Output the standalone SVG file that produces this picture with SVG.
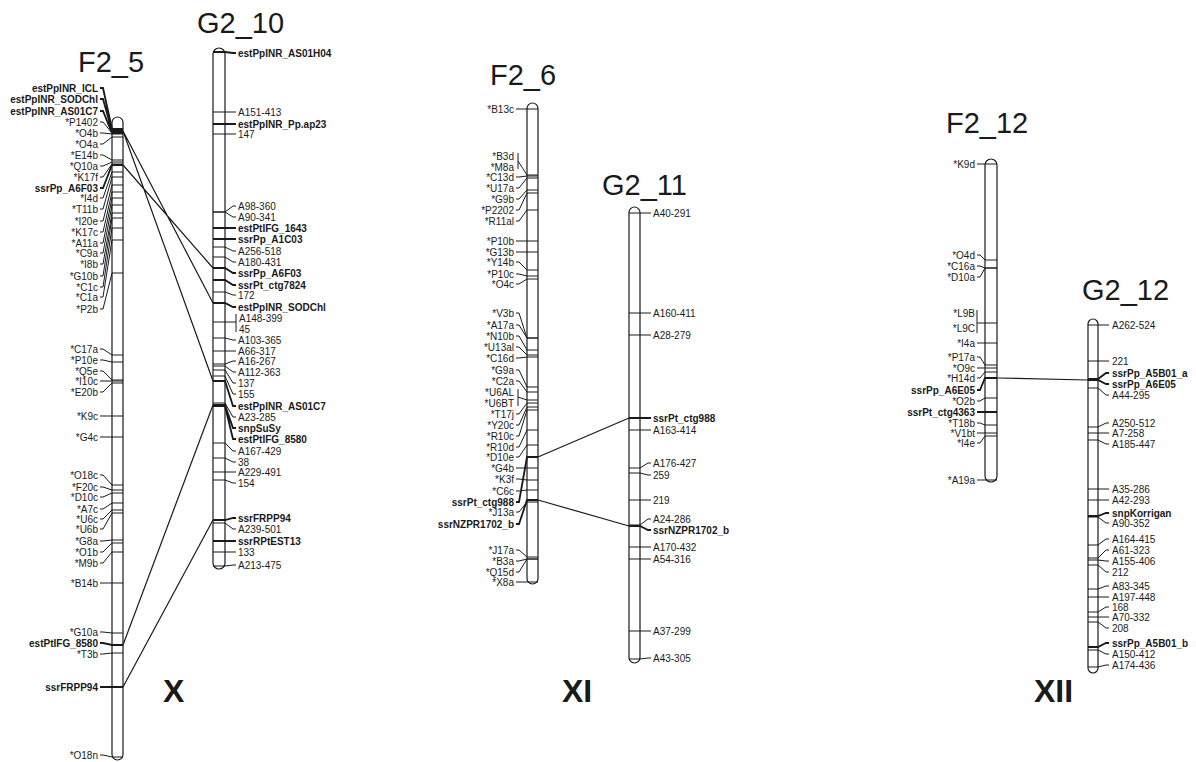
<svg xmlns="http://www.w3.org/2000/svg" width="1196" height="762" viewBox="0 0 1196 762">
<style>
text{font-family:"Liberation Sans",Arial,sans-serif;fill:#1a1a1a}
.t{font-size:29px}
.r{font-size:32px;font-weight:bold}
.m{font-size:10px}
.b{font-weight:bold}
.L text.m{text-anchor:end}
.bar{fill:#fff;stroke:#1a1a1a;stroke-width:1.2}
.k{fill:none;stroke:#1a1a1a;stroke-width:1}
.kb{fill:none;stroke:#1a1a1a;stroke-width:1.8}
.cn{fill:none;stroke:#1a1a1a;stroke-width:1.2}
</style>
<rect width="1196" height="762" fill="#fff"/>

<g id="F2_5" class="L">
<text class="t" x="78" y="72">F2_5</text>
<rect class="bar" x="112" y="117" width="11" height="643" rx="5.5"/>
<path class="k" d="M100 122h3L112 133H123M100 133h3L112 134H123M100 144h3L112 137H123M100 155h3L112 160H123M100 166h3L112 162H123M100 177h3L112 164H123M100 198h3L112 172H123M100 209h3L112 177H123M100 221h3L112 185H123M100 232h3L112 192H123M100 243h3L112 198H123M100 253h3L112 205H123M100 264h3L112 213H123M100 276h3L112 218H123M100 287h3L112 228H123M100 297h3L112 240H123M100 309h3L112 273H123M100 349h3L112 355H123M100 360h3L112 362H123M100 371h3L112 380H123M100 381h3L112 381H123M100 392h3L112 383H123M100 416h3L112 416H123M100 437h3L112 437H123M100 475h3L112 485H123M100 487h3L112 490H123M100 497h3L112 493H123M100 509h3L112 503H123M100 519h3L112 510H123M100 529h3L112 513H123M100 541h3L112 540H123M100 552h3L112 543H123M100 563h3L112 552H123M100 583h3L112 583H123M100 632h3L112 633H123M100 654h3L112 653H123M100 755h3L112 757H123"/>
<path class="kb" d="M100 88h3L112 129H123M100 99h3L112 131H123M100 111h3L112 133H123M100 188h3L112 165H123M100 643h3L112 645H123M100 687h3L112 687H123"/>
<text class="m b" x="98" y="91.5">estPpINR_ICL</text>
<text class="m b" x="98" y="102.5">estPpINR_SODChl</text>
<text class="m b" x="98" y="114.5">estPpINR_AS01C7</text>
<text class="m" x="98" y="125.5">*P1402</text>
<text class="m" x="98" y="136.5">*O4b</text>
<text class="m" x="98" y="147.5">*O4a</text>
<text class="m" x="98" y="158.5">*E14b</text>
<text class="m" x="98" y="169.5">*Q10a</text>
<text class="m" x="98" y="180.5">*K17f</text>
<text class="m b" x="98" y="191.5">ssrPp_A6F03</text>
<text class="m" x="98" y="201.5">*I4d</text>
<text class="m" x="98" y="212.5">*T11b</text>
<text class="m" x="98" y="224.5">*I20e</text>
<text class="m" x="98" y="235.5">*K17c</text>
<text class="m" x="98" y="246.5">*A11a</text>
<text class="m" x="98" y="256.5">*C9a</text>
<text class="m" x="98" y="267.5">*I8b</text>
<text class="m" x="98" y="279.5">*G10b</text>
<text class="m" x="98" y="290.5">*C1c</text>
<text class="m" x="98" y="300.5">*C1a</text>
<text class="m" x="98" y="312.5">*P2b</text>
<text class="m" x="98" y="352.5">*C17a</text>
<text class="m" x="98" y="363.5">*P10e</text>
<text class="m" x="98" y="374.5">*Q5e</text>
<text class="m" x="98" y="384.5">*I10c</text>
<text class="m" x="98" y="395.5">*E20b</text>
<text class="m" x="98" y="419.5">*K9c</text>
<text class="m" x="98" y="440.5">*G4c</text>
<text class="m" x="98" y="478.5">*O18c</text>
<text class="m" x="98" y="490.5">*F20c</text>
<text class="m" x="98" y="500.5">*D10c</text>
<text class="m" x="98" y="512.5">*A7c</text>
<text class="m" x="98" y="522.5">*U6c</text>
<text class="m" x="98" y="532.5">*U6b</text>
<text class="m" x="98" y="544.5">*G8a</text>
<text class="m" x="98" y="555.5">*O1b</text>
<text class="m" x="98" y="566.5">*M9b</text>
<text class="m" x="98" y="586.5">*B14b</text>
<text class="m" x="98" y="635.5">*G10a</text>
<text class="m b" x="98" y="646.5">estPtIFG_8580</text>
<text class="m" x="98" y="657.5">*T3b</text>
<text class="m b" x="98" y="690.5">ssrFRPP94</text>
<text class="m" x="98" y="758.5">*O18n</text>
</g>

<g id="G2_10">
<text class="t" x="197" y="33">G2_10</text>
<rect class="bar" x="213" y="48" width="12" height="521" rx="6"/>
<path class="k" d="M213 112H225L233 112h3M213 134H225L233 134h3M213 212H225L233 206h3M213 212H225L233 217h3M213 247H225L233 251h3M213 257H225L233 262h3M213 292H225L233 295h3M213 322H236M236 314V332M213 338H225L233 340h3M213 351H225L233 351h3M213 364H225L233 361h3M213 366H225L233 372h3M213 370H225L233 383h3M213 376H225L233 394h3M213 403H225L233 417h3M213 443H225L233 451h3M213 458H225L233 462h3M213 472H225L233 472h3M213 480H225L233 483h3M213 523H225L233 529h3M213 552H225L233 552h3M213 566H225L233 565h3"/>
<path class="kb" d="M213 52H225L233 53h3M213 124H225L233 124h3M213 228H225L233 228h3M213 239H225L233 239h3M213 268H225L233 273h3M213 280H225L233 285h3M213 303H225L233 307h3M213 381H225L233 406h3M213 405H225L233 428h3M213 406H225L233 439h3M213 520H225L233 518h3M213 541H225L233 541h3"/>
<text class="m b" x="238" y="56.5">estPpINR_AS01H04</text>
<text class="m" x="238" y="115.5">A151-413</text>
<text class="m b" x="238" y="127.5">estPpINR_Pp.ap23</text>
<text class="m" x="238" y="137.5">147</text>
<text class="m" x="238" y="209.5">A98-360</text>
<text class="m" x="238" y="220.5">A90-341</text>
<text class="m b" x="238" y="231.5">estPtIFG_1643</text>
<text class="m b" x="238" y="242.5">ssrPp_A1C03</text>
<text class="m" x="238" y="254.5">A256-518</text>
<text class="m" x="238" y="265.5">A180-431</text>
<text class="m b" x="238" y="276.5">ssrPp_A6F03</text>
<text class="m b" x="238" y="288.5">ssrPt_ctg7824</text>
<text class="m" x="238" y="298.5">172</text>
<text class="m b" x="238" y="310.5">estPpINR_SODChl</text>
<text class="m" x="239" y="321.5">A148-399</text>
<text class="m" x="239" y="332.5">45</text>
<text class="m" x="238" y="343.5">A103-365</text>
<text class="m" x="238" y="354.5">A66-317</text>
<text class="m" x="238" y="364.5">A16-267</text>
<text class="m" x="238" y="375.5">A112-363</text>
<text class="m" x="238" y="386.5">137</text>
<text class="m" x="238" y="397.5">155</text>
<text class="m b" x="238" y="409.5">estPpINR_AS01C7</text>
<text class="m" x="238" y="420.5">A23-285</text>
<text class="m b" x="238" y="431.5">snpSuSy</text>
<text class="m b" x="238" y="442.5">estPtIFG_8580</text>
<text class="m" x="238" y="454.5">A167-429</text>
<text class="m" x="238" y="465.5">38</text>
<text class="m" x="238" y="475.5">A229-491</text>
<text class="m" x="238" y="486.5">154</text>
<text class="m b" x="238" y="521.5">ssrFRPP94</text>
<text class="m" x="238" y="532.5">A239-501</text>
<text class="m b" x="238" y="544.5">ssrRPtEST13</text>
<text class="m" x="238" y="555.5">133</text>
<text class="m" x="238" y="568.5">A213-475</text>
</g>

<g id="F2_6" class="L">
<text class="t" x="490" y="85">F2_6</text>
<rect class="bar" x="527" y="103" width="11" height="481" rx="5.5"/>
<path class="k" d="M516 109h3L527 109H538M518 153V169M518 161L527 175H538M516 177h3L527 176H538M516 188h3L527 178H538M516 199h3L527 190H538M516 210h3L527 193H538M516 221h3L527 210H538M516 241h3L527 241H538M516 252h3L527 252H538M516 262h3L527 270H538M516 274h3L527 276H538M516 284h3L527 279H538M516 313h3L527 338H538M516 325h3L527 338H538M516 336h3L527 350H538M516 347h3L527 355H538M516 358h3L527 357H538M516 370h3L527 387H538M516 381h3L527 392H538M518 389V406M518 397L527 400H538M516 414h3L527 403H538M516 425h3L527 407H538M516 436h3L527 410H538M516 447h3L527 430H538M516 457h3L527 445H538M516 468h3L527 468H538M516 479h3L527 480H538M516 491h3L527 490H538M516 512h3L527 502H538M516 550h3L527 557H538M516 561h3L527 559H538M516 572h3L527 559H538M516 582h3L527 582H538"/>
<path class="kb" d="M516 502h3L527 457H538M516 524h3L527 500H538"/>
<text class="m" x="514" y="112.5">*B13c</text>
<text class="m" x="514" y="159.5">*B3d</text>
<text class="m" x="514" y="170.5">*M8a</text>
<text class="m" x="514" y="180.5">*C13d</text>
<text class="m" x="514" y="191.5">*U17a</text>
<text class="m" x="514" y="202.5">*G9b</text>
<text class="m" x="514" y="213.5">*P2202</text>
<text class="m" x="514" y="224.5">*R11al</text>
<text class="m" x="514" y="244.5">*P10b</text>
<text class="m" x="514" y="255.5">*G13b</text>
<text class="m" x="514" y="265.5">*Y14b</text>
<text class="m" x="514" y="277.5">*P10c</text>
<text class="m" x="514" y="287.5">*O4c</text>
<text class="m" x="514" y="316.5">*V3b</text>
<text class="m" x="514" y="328.5">*A17a</text>
<text class="m" x="514" y="339.5">*N10b</text>
<text class="m" x="514" y="350.5">*U13al</text>
<text class="m" x="514" y="361.5">*C16d</text>
<text class="m" x="514" y="373.5">*G9a</text>
<text class="m" x="514" y="384.5">*C2a</text>
<text class="m" x="514" y="395.5">*U6AL</text>
<text class="m" x="514" y="406.5">*U6BT</text>
<text class="m" x="514" y="417.5">*T17j</text>
<text class="m" x="514" y="428.5">*Y20c</text>
<text class="m" x="514" y="439.5">*R10c</text>
<text class="m" x="514" y="450.5">*R10d</text>
<text class="m" x="514" y="460.5">*D10e</text>
<text class="m" x="514" y="471.5">*G4b</text>
<text class="m" x="514" y="482.5">*K3f</text>
<text class="m" x="514" y="494.5">*C6c</text>
<text class="m b" x="514" y="505.5">ssrPt_ctg988</text>
<text class="m" x="514" y="515.5">*J13a</text>
<text class="m b" x="514" y="527.5">ssrNZPR1702_b</text>
<text class="m" x="514" y="553.5">*J17a</text>
<text class="m" x="514" y="564.5">*B3a</text>
<text class="m" x="514" y="575.5">*Q15d</text>
<text class="m" x="514" y="585.5">*X8a</text>
</g>

<g id="G2_11">
<text class="t" x="602" y="195">G2_11</text>
<rect class="bar" x="629" y="207" width="11" height="456" rx="5.5"/>
<path class="k" d="M629 213H640L648 213h3M629 313H640L648 313h3M629 335H640L648 335h3M629 430H640L648 430h3M629 468H640L648 463h3M629 473H640L648 475h3M629 500H640L648 500h3M629 525H640L648 519h3M629 547H640L648 547h3M629 559H640L648 559h3M629 631H640L648 631h3M629 659H640L648 658h3"/>
<path class="kb" d="M629 418H640L648 418h3M629 526H640L648 530h3"/>
<text class="m" x="653" y="216.5">A40-291</text>
<text class="m" x="653" y="316.5">A160-411</text>
<text class="m" x="653" y="338.5">A28-279</text>
<text class="m b" x="653" y="421.5">ssrPt_ctg988</text>
<text class="m" x="653" y="433.5">A163-414</text>
<text class="m" x="653" y="466.5">A176-427</text>
<text class="m" x="653" y="478.5">259</text>
<text class="m" x="653" y="503.5">219</text>
<text class="m" x="653" y="522.5">A24-286</text>
<text class="m b" x="653" y="533.5">ssrNZPR1702_b</text>
<text class="m" x="653" y="550.5">A170-432</text>
<text class="m" x="653" y="562.5">A54-316</text>
<text class="m" x="653" y="634.5">A37-299</text>
<text class="m" x="653" y="661.5">A43-305</text>
</g>

<g id="F2_12" class="L">
<text class="t" x="946" y="133">F2_12</text>
<rect class="bar" x="985" y="159" width="12" height="323" rx="6"/>
<path class="k" d="M977 164h3L985 164H997M977 255h3L985 260H997M977 266h3L985 268H997M977 277h3L985 268H997M977 310V333M977 323H997M977 343h3L985 343H997M977 357h3L985 365H997M977 368h3L985 368H997M977 378h3L985 372H997M977 401h3L985 398H997M977 423h3L985 425H997M977 433h3L985 433H997M977 443h3L985 436H997M977 480h3L985 480H997"/>
<path class="kb" d="M977 390h3L985 378H997M977 412h3L985 412H997"/>
<text class="m" x="975" y="167.5">*K9d</text>
<text class="m" x="975" y="258.5">*O4d</text>
<text class="m" x="975" y="269.5">*C16a</text>
<text class="m" x="975" y="280.5">*D10a</text>
<text class="m" x="975" y="316.5">*L9B</text>
<text class="m" x="975" y="331.5">*L9C</text>
<text class="m" x="975" y="346.5">*I4a</text>
<text class="m" x="975" y="360.5">*P17a</text>
<text class="m" x="975" y="371.5">*O9c</text>
<text class="m" x="975" y="381.5">*H14d</text>
<text class="m b" x="975" y="393.5">ssrPp_A6E05</text>
<text class="m" x="975" y="404.5">*O2b</text>
<text class="m b" x="975" y="415.5">ssrPt_ctg4363</text>
<text class="m" x="975" y="426.5">*T18b</text>
<text class="m" x="975" y="436.5">*V1bt</text>
<text class="m" x="975" y="446.5">*I4e</text>
<text class="m" x="975" y="483.5">*A19a</text>
</g>

<g id="G2_12">
<text class="t" x="1082" y="300">G2_12</text>
<rect class="bar" x="1088" y="319" width="10" height="354" rx="5"/>
<path class="k" d="M1088 325H1098L1106 325h3M1088 361H1098L1106 361h3M1088 388H1098L1106 395h3M1088 427H1098L1106 423h3M1088 433H1098L1106 433h3M1088 440H1098L1106 444h3M1088 489H1098L1106 489h3M1088 500H1098L1106 500h3M1088 517H1098L1106 523h3M1088 545H1098L1106 539h3M1088 558H1098L1106 550h3M1088 560H1098L1106 561h3M1088 565H1098L1106 572h3M1088 589H1098L1106 586h3M1088 597H1098L1106 597h3M1088 612H1098L1106 607h3M1088 617H1098L1106 617h3M1088 622H1098L1106 628h3M1088 650H1098L1106 654h3M1088 667H1098L1106 665h3"/>
<path class="kb" d="M1088 379H1098L1106 373h3M1088 380H1098L1106 384h3M1088 516H1098L1106 513h3M1088 647H1098L1106 643h3"/>
<text class="m" x="1112" y="328.5">A262-524</text>
<text class="m" x="1112" y="364.5">221</text>
<text class="m b" x="1112" y="376.5">ssrPp_A5B01_a</text>
<text class="m b" x="1112" y="387.5">ssrPp_A6E05</text>
<text class="m" x="1112" y="398.5">A44-295</text>
<text class="m" x="1112" y="426.5">A250-512</text>
<text class="m" x="1112" y="436.5">A7-258</text>
<text class="m" x="1112" y="447.5">A185-447</text>
<text class="m" x="1112" y="492.5">A35-286</text>
<text class="m" x="1112" y="503.5">A42-293</text>
<text class="m b" x="1112" y="516.5">snpKorrigan</text>
<text class="m" x="1112" y="526.5">A90-352</text>
<text class="m" x="1112" y="542.5">A164-415</text>
<text class="m" x="1112" y="553.5">A61-323</text>
<text class="m" x="1112" y="564.5">A155-406</text>
<text class="m" x="1112" y="575.5">212</text>
<text class="m" x="1112" y="589.5">A83-345</text>
<text class="m" x="1112" y="600.5">A197-448</text>
<text class="m" x="1112" y="610.5">168</text>
<text class="m" x="1112" y="620.5">A70-332</text>
<text class="m" x="1112" y="631.5">208</text>
<text class="m b" x="1112" y="646.5">ssrPp_A5B01_b</text>
<text class="m" x="1112" y="657.5">A150-412</text>
<text class="m" x="1112" y="668.5">A174-436</text>
</g>

<g id="connectors">
<path class="cn" d="M123 131L213 303M123 131L213 381M123 165L213 268M123 645L213 405M123 687L213 520M538 457L629 418M538 500L629 526M997 378L1088 380"/>
</g>

<g id="group-labels">
<text class="r" x="163" y="702">X</text>
<text class="r" x="562" y="702">XI</text>
<text class="r" x="1034" y="702">XII</text>
</g>
</svg>
